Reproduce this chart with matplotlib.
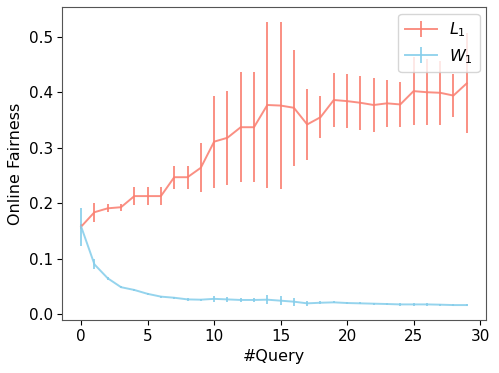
import matplotlib
matplotlib.use("Agg")
import matplotlib.pyplot as plt
import numpy as np

queries = list(range(30))
l1_mean = [0.158, 0.184, 0.191, 0.193, 0.213, 0.213, 0.213, 0.247, 0.247, 0.264,
           0.311, 0.318, 0.337, 0.337, 0.377, 0.376, 0.372, 0.342, 0.355, 0.386,
           0.384, 0.381, 0.377, 0.380, 0.378, 0.402, 0.400, 0.399, 0.394, 0.416]
l1_err = [0.005, 0.017, 0.007, 0.006, 0.016, 0.016, 0.016, 0.021, 0.021, 0.044,
          0.083, 0.085, 0.099, 0.099, 0.150, 0.150, 0.104, 0.064, 0.038, 0.048,
          0.048, 0.049, 0.048, 0.042, 0.041, 0.061, 0.059, 0.058, 0.038, 0.090]
w1_mean = [0.158, 0.090, 0.065, 0.049, 0.044, 0.037, 0.032, 0.030, 0.027, 0.0265,
           0.028, 0.027, 0.026, 0.026, 0.0265, 0.0247, 0.0229, 0.0199, 0.021, 0.0217,
           0.0205, 0.0199, 0.0193, 0.0187, 0.018, 0.018, 0.018, 0.0175, 0.0168, 0.0168]
w1_err = [0.034, 0.009, 0.003, 0.002, 0.002, 0.002, 0.002, 0.002, 0.002, 0.002,
          0.005, 0.004, 0.004, 0.004, 0.008, 0.008, 0.007, 0.004, 0.003, 0.002,
          0.002, 0.002, 0.002, 0.002, 0.002, 0.002, 0.002, 0.002, 0.002, 0.002]

fig = plt.figure(figsize=(4.99, 3.73), dpi=100)
ax = fig.add_axes([0.124, 0.141, 0.850, 0.839])

ax.errorbar(queries, l1_mean, yerr=l1_err, color="salmon", label="$L_1$", lw=1.4, elinewidth=1.4, alpha=0.88)
ax.errorbar(queries, w1_mean, yerr=w1_err, color="skyblue", label="$W_1$", lw=1.4, elinewidth=1.4, alpha=0.88)

ax.set_xlabel("#Query", fontsize=11.5, labelpad=3)
ax.set_ylabel("Online Fairness", fontsize=11.5, labelpad=4)
ax.tick_params(labelsize=11, length=3.5, pad=3)
for s in ax.spines.values():
    s.set_color("#555555")
ax.legend(loc="upper right", fontsize=11.5, handlelength=2.0, borderaxespad=0.4)

fig.savefig("out.png", dpi=100)
